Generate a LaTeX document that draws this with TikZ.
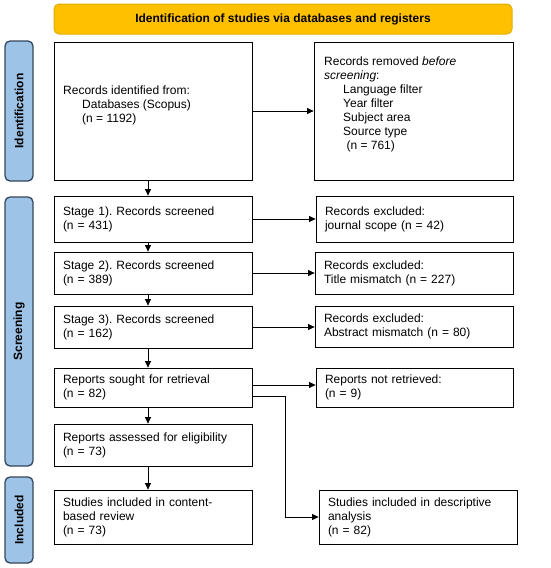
\documentclass[tikz,border=0pt]{standalone}
\usepackage{fontspec}
\setmainfont{Liberation Sans}
\usetikzlibrary{arrows.meta,calc}
\definecolor{banner}{HTML}{FFC000}
\definecolor{bannerline}{HTML}{E3AC00}
\definecolor{side}{HTML}{9DC3E6}
\definecolor{sideline}{HTML}{34465C}
\frenchspacing
\tikzset{
  box/.style={draw=black,line width=0.8pt,fill=white,inner xsep=9pt,inner ysep=0pt,align=left,
    font=\fontsize{12}{14}\selectfont},
  txt/.style={inner sep=0pt,align=left,anchor=north west,font=\fontsize{12}{14}\selectfont},
  sidebox/.style={draw=sideline,line width=1.3pt,fill=side,rounded corners=5pt,minimum width=28pt,
    inner sep=0pt},
  sidetxt/.style={rotate=90,font=\bfseries\fontsize{12}{14}\selectfont,inner sep=0pt},
  arr/.style={line width=0.8pt,-{Triangle[length=6.5pt,width=6pt]}}
}
\begin{document}
\begin{tikzpicture}[x=1pt,y=-1pt]
\useasboundingbox (0,0) rectangle (550,568);
% banner
\node[draw=bannerline,line width=1pt,fill=banner,rounded corners=5pt,minimum width=458pt,minimum height=30pt,
  font=\bfseries\fontsize{12}{14}\selectfont] (ban) at (283,19) {Identification of studies via databases and registers};
% side labels
\node[sidebox,minimum height=140pt] (sid) at (19,111) {};
\node[sidetxt] (sidt) at (sid.center) {Identification};
\node[sidebox,minimum height=269pt] (ssc) at (19,331.5) {};
\node[sidetxt] (ssct) at (ssc.center) {Screening};
\node[sidebox,minimum height=86pt] (sin) at (19,520) {};
\node[sidetxt] (sint) at (sin.center) {Included};
% identification boxes
\node[box,minimum width=198pt,minimum height=138pt] (id) at (153,111) {};
\node[txt] (idt) at (63,85.3) {Records identified from:\\\hspace*{19pt}Databases (Scopus)\\\hspace*{19pt}(n = 1192)};
\node[box,minimum width=199pt,minimum height=138pt] (rem) at (413.5,111) {};
\node[txt] (remt) at (324,56.6) {Records removed \textit{before}\\\textit{screening}:\\\hspace*{19pt}Language filter\\\hspace*{19pt}Year filter\\\hspace*{19pt}Subject area\\\hspace*{19pt}Source type\\\hspace*{19pt}\ (n = 761)};
% screening boxes
\node[box,text width=180pt,minimum height=46pt] (s1) at (153,219) {Stage 1). Records screened\\(n = 431)};
\node[box,text width=179pt,minimum height=46pt] (e1) at (414.5,219) {Records excluded:\\journal scope (n = 42)};
\node[box,text width=180pt,minimum height=42pt] (s2) at (153,273) {Stage 2). Records screened\\(n = 389)};
\node[box,text width=180pt,minimum height=42pt] (e2) at (414,273) {Records excluded:\\Title mismatch (n = 227)};
\node[box,text width=180pt,minimum height=42pt] (s3) at (153,327) {Stage 3). Records screened\\(n = 162)};
\node[box,text width=180pt,minimum height=41pt] (e3) at (414,326.5) {Records excluded:\\Abstract mismatch (n = 80)};
\node[box,text width=180pt,minimum height=39pt] (so) at (153,387.5) {Reports sought for retrieval\\(n = 82)};
\node[box,text width=179pt,minimum height=39pt] (nr) at (414.5,387.5) {Reports not retrieved:\\(n = 9)};
\node[box,text width=180pt,minimum height=42pt] (as) at (153,445) {Reports assessed for eligibility\\(n = 73)};
% included boxes
\node[box,text width=180pt,minimum height=54pt] (ic) at (153,517) {Studies included in content-\\based review\\(n = 73)};
\node[box,text width=180pt,minimum height=54pt] (de) at (418,517) {Studies included in descriptive\\analysis\\(n = 82)};
% connectors
\coordinate (vx) at (148,0);
\draw[arr] (id.south -| vx) -- (s1.north -| vx);
\draw[arr] (s1.south -| vx) -- (s2.north -| vx);
\draw[arr] (s2.south -| vx) -- (s3.north -| vx);
\draw[arr] (s3.south -| vx) -- (so.north -| vx);
\draw[arr] (so.south -| vx) -- (as.north -| vx);
\draw[arr] (as.south -| vx) -- (ic.north -| vx);
\draw[arr] (id.east) -- (id.east -| rem.west);
\draw[arr] (s1.east) -- (s1.east -| e1.west);
\draw[arr] (s2.east) -- (s2.east -| e2.west);
\draw[arr] (s3.east) -- (s3.east -| e3.west);
\coordinate (ya) at (0,385);
\draw[arr] (so.east |- ya) -- (nr.west |- ya);
\coordinate (bend) at (285,396);
\draw[arr] (so.east |- bend) -- (bend) |- (de.west);
\end{tikzpicture}
\end{document}
